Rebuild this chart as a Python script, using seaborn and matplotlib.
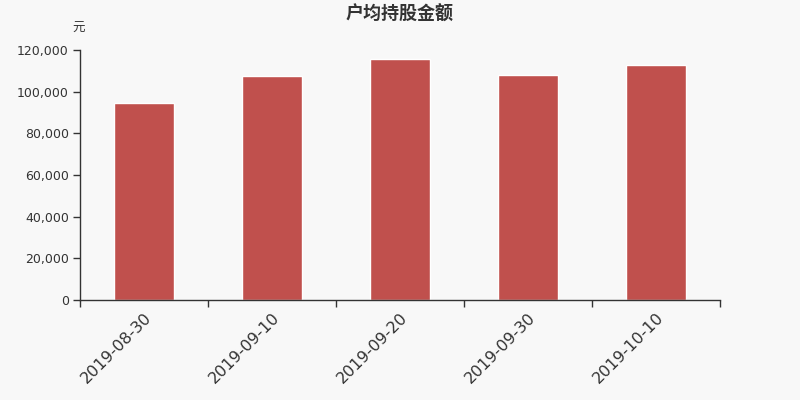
import seaborn as sns
import matplotlib.pyplot as plt
import pandas as pd
from matplotlib.ticker import FuncFormatter, FixedLocator

dates = ["2019-08-30", "2019-09-10", "2019-09-20", "2019-09-30", "2019-10-10"]
amounts = [94400, 107500, 115700, 107800, 112800]
y_ticks = [0, 20000, 40000, 60000, 80000, 100000, 120000]

bg = "#f8f8f8"
bar_color = "#c0504d"
text_color = "#333333"

sns.set_style("white")
plt.rcParams['font.family'] = ['DejaVu Sans', 'Noto Sans CJK SC']

df = pd.DataFrame({"date": dates, "amount": amounts})

fig = plt.figure(figsize=(8, 4), dpi=100, facecolor=bg)
ax = fig.add_axes([0.1, 0.25, 0.8, 0.625], facecolor=bg)

sns.barplot(data=df, x="date", y="amount", color=bar_color, width=0.47,
            saturation=1, ax=ax)

ax.set_xlim(-0.5, len(dates) - 0.5)
ax.set_ylim(0, 120000)
ax.set_yticks(y_ticks)
ax.yaxis.set_major_formatter(FuncFormatter(lambda v, p: f"{int(v):,}"))
ax.set_xlabel("")
ax.set_ylabel("")

# category boundary ticks, labels at centres
ax.xaxis.set_minor_locator(FixedLocator([i - 0.5 for i in range(len(dates) + 1)]))
ax.tick_params(axis="x", which="major", bottom=True, length=0, pad=7,
               labelsize=11.5, labelcolor=text_color)
ax.tick_params(axis="x", which="minor", bottom=True, length=5,
               color=text_color, width=1)
plt.setp(ax.get_xticklabels(), rotation=45, ha="right", rotation_mode="anchor")
ax.tick_params(axis="y", left=True, length=5, color=text_color, width=1,
               labelsize=9, labelcolor=text_color, pad=3)

for side in ["top", "right"]:
    ax.spines[side].set_visible(False)
for side in ["left", "bottom"]:
    ax.spines[side].set_color(text_color)
    ax.spines[side].set_linewidth(1)

fig.text(0.5, 0.963, "户均持股金额", ha="center", va="center", fontsize=13,
         fontweight="bold", color=text_color)
fig.text(0.098, 0.928, "元", ha="center", va="center", fontsize=9,
         color=text_color)

fig.savefig("out.png", dpi=100, facecolor=bg)
